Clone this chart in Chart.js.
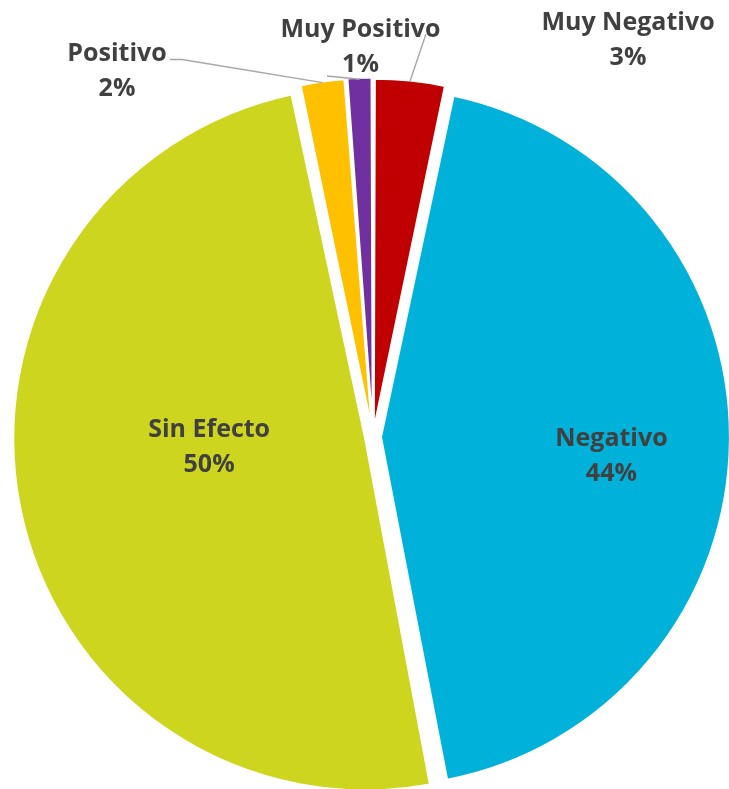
<!DOCTYPE html>
<html>
<head>
<meta charset="utf-8">
<script src="https://cdn.jsdelivr.net/npm/chart.js@4.4.1/dist/chart.umd.min.js"></script>
<style>
  html, body { margin: 0; padding: 0; background: #ffffff; }
  #wrap { width: 729px; height: 789px; }
</style>
</head>
<body>
<div id="wrap"><canvas id="c" width="729" height="789"></canvas></div>
<script>
// ---- data ----
const categories = ['Muy Negativo', 'Negativo', 'Sin Efecto', 'Positivo', 'Muy Positivo'];
const shares = [3.3, 43.7, 49.7, 2.1, 1.2];
const sliceColors = ['#C00000', '#00B2D9', '#CDD51F', '#FFC000', '#7030A0'];

// ---- label layout (styling / placement only) ----
const FONT = 'bold 25px "Open Sans", "Lato", sans-serif';
const TEXT_COLOR = '#404040';
const LEADER_COLOR = '#A6A6A6';
const LINE_GAP = 35;
const CAP_HALF = 9;
// inside labels: angle shift (deg) from slice bisector, radius fraction
// outside labels: text centre x, first baseline y, leader end points
const labelLayout = {
  'Negativo':     { inside: true, dAngle: 3.7, rFrac: 0.695 },
  'Sin Efecto':   { inside: true, dAngle: 8.5, rFrac: 0.477 },
  'Muy Negativo': { x: 628, y: 30, leader: [[426, 34]] },
  'Muy Positivo': { x: 360.5, y: 37, leader: [[327, 76]] },
  'Positivo':     { x: 117, y: 61, leader: [[182, 59.5], [170, 59.5]] }
};

const labelPlugin = {
  id: 'pieLabels',
  afterDatasetsDraw(chart) {
    const ctx = chart.ctx;
    const meta = chart.getDatasetMeta(0);
    const ds = chart.data.datasets[0];
    const total = ds.data.reduce((a, b) => a + b, 0);
    ctx.save();
    ctx.font = FONT;
    ctx.fillStyle = TEXT_COLOR;
    ctx.textAlign = 'center';
    ctx.textBaseline = 'alphabetic';
    meta.data.forEach((arc, i) => {
      const name = chart.data.labels[i];
      const lay = labelLayout[name];
      if (!lay) return;
      const pct = Math.round(ds.data[i] / total * 100) + '%';
      const p = arc.getProps(['x', 'y', 'startAngle', 'endAngle', 'outerRadius'], true);
      const mid = (p.startAngle + p.endAngle) / 2;
      const shift = (arc.options.offset || 0) / 4;
      const vx = p.x + Math.cos(mid) * shift;
      const vy = p.y + Math.sin(mid) * shift;
      if (lay.inside) {
        const a = mid + lay.dAngle * Math.PI / 180;
        const r = p.outerRadius * lay.rFrac;
        const cx = p.x + Math.cos(a) * r;
        const cy = p.y + Math.sin(a) * r;
        ctx.fillText(name, cx, cy - LINE_GAP / 2 + CAP_HALF);
        ctx.fillText(pct, cx, cy + LINE_GAP / 2 + CAP_HALF);
      } else {
        // leader line from slice edge
        const ex = vx + Math.cos(mid) * (p.outerRadius + 6);
        const ey = vy + Math.sin(mid) * (p.outerRadius + 6);
        ctx.save();
        ctx.strokeStyle = LEADER_COLOR;
        ctx.lineWidth = 1.4;
        ctx.beginPath();
        ctx.moveTo(ex, ey);
        lay.leader.forEach(pt => ctx.lineTo(pt[0], pt[1]));
        ctx.stroke();
        ctx.restore();
        ctx.fillText(name, lay.x, lay.y);
        ctx.fillText(pct, lay.x, lay.y + LINE_GAP);
      }
    });
    ctx.restore();
  }
};

new Chart(document.getElementById('c'), {
  type: 'pie',
  data: {
    labels: categories,
    datasets: [{
      data: shares,
      backgroundColor: sliceColors,
      borderColor: '#ffffff',
      borderWidth: 2,
      offset: 32,
      radius: 344,
      clip: false
    }]
  },
  options: {
    responsive: false,
    animation: false,
    events: [],
    layout: { padding: { left: 17, right: 0, top: 85, bottom: 0 } },
    plugins: {
      legend: { display: false },
      tooltip: { enabled: false }
    }
  },
  plugins: [labelPlugin]
});
</script>
</body>
</html>
